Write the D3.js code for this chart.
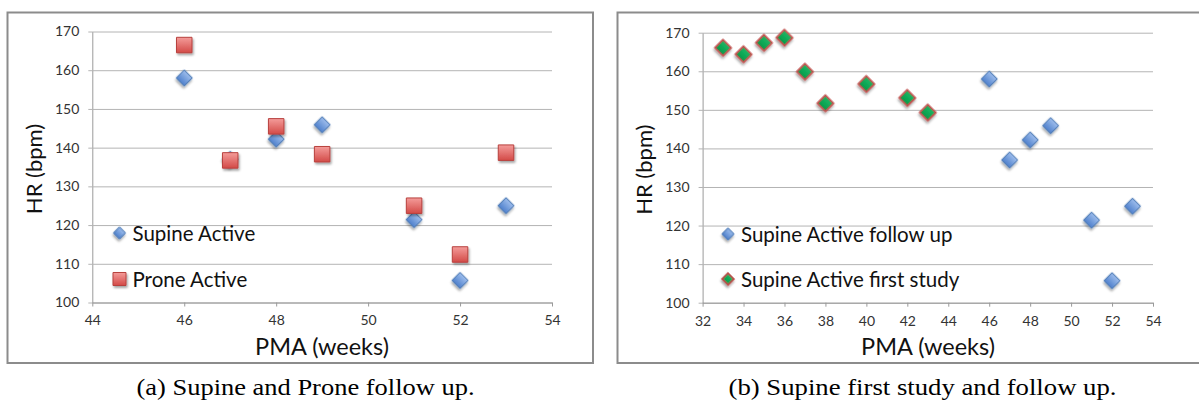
<!DOCTYPE html>
<html>
<head>
<meta charset="utf-8">
<script src="https://cdn.jsdelivr.net/npm/d3@7"></script>
<style>
  html, body { margin: 0; padding: 0; background: #fff; }
  svg { display: block; }
</style>
</head>
<body>
<svg id="chart" width="1199" height="403"></svg>
<script>
// Heart rate versus post-menstrual age (PMA)
const weeksFollowUp = [46, 47, 48, 49, 51, 52, 53];
const supineFollowUp = [158, 137, 142.2, 145.9, 121.4, 105.7, 125];
const proneFollowUp = [166.5, 136.7, 145.5, 138.3, 125, 112.4, 138.7];

const weeksFirstStudy = [33, 34, 35, 36, 37, 38, 40, 42, 43];
const supineFirstStudy = [166.1, 164.4, 167.4, 168.7, 159.9, 151.7, 156.7, 153.1, 149.3];

const xTicksA = [44, 46, 48, 50, 52, 54];
const xTicksB = [32, 34, 36, 38, 40, 42, 44, 46, 48, 50, 52, 54];
const yTicks = [100, 110, 120, 130, 140, 150, 160, 170];

const legendA = ["Supine Active", "Prone Active"];
const legendB = ["Supine Active follow up", "Supine Active first study"];
const captions = ["(a) Supine and Prone follow up.", "(b) Supine first study and follow up."];

const svg = d3.select("#chart");
const defs = svg.append("defs");

// marker fills and shadow
function vGrad(id, top, bottom) {
  const g = defs.append("linearGradient").attr("id", id)
    .attr("x1", 0).attr("y1", 0).attr("x2", 0).attr("y2", 1);
  g.append("stop").attr("offset", "0%").attr("stop-color", top);
  g.append("stop").attr("offset", "100%").attr("stop-color", bottom);
}
vGrad("gBlue", "#9dbdec", "#4f80cc");
vGrad("gRed", "#f49c9a", "#d34a47");
vGrad("gGreen", "#1fb866", "#009a48");

const shadow = defs.append("filter").attr("id", "shadow")
  .attr("x", "-50%").attr("y", "-50%").attr("width", "200%").attr("height", "200%");
shadow.append("feDropShadow").attr("dx", 1.2).attr("dy", 2).attr("stdDeviation", 1.3)
  .attr("flood-color", "#000").attr("flood-opacity", 0.35);

const styles = {
  blue:  { fill: "url(#gBlue)", stroke: "#4a78b5", shape: "diamond", width: 1 },
  red:   { fill: "url(#gRed)", stroke: "#b8413e", shape: "square", width: 1 },
  green: { fill: "url(#gGreen)", stroke: "#c0504d", shape: "diamond", width: 1.8 }
};

function marker(g, style, x, y, scale) {
  const s = scale || 1;
  const diamond = style.shape === "diamond";
  const side = (diamond ? 11.4 : 15.5) * s;
  g.append("path")
    .attr("d", d3.symbol(d3.symbolSquare, side * side)())
    .attr("transform", `translate(${x},${y})` + (diamond ? " rotate(45)" : ""))
    .attr("fill", style.fill).attr("stroke", style.stroke)
    .attr("stroke-width", style.width)
    .attr("filter", "url(#shadow)");
}

function panel(cfg) {
  const g = svg.append("g");

  // outer frame
  g.append("rect")
    .attr("x", cfg.frame[0]).attr("y", cfg.frame[1])
    .attr("width", cfg.frame[2]).attr("height", cfg.frame[3])
    .attr("fill", "#fff").attr("stroke", "#8c8c8c").attr("stroke-width", 2);

  const x = d3.scaleLinear().domain(cfg.xDomain).range(cfg.xRange);
  const y = d3.scaleLinear().domain([100, 170]).range(cfg.yRange);

  // horizontal gridlines with left ticks
  const yAxis = d3.axisLeft(y).tickValues(yTicks)
    .tickSize(-(cfg.xRange[1] - cfg.xRange[0])).tickPadding(13)
    .tickSizeOuter(0);
  const ya = g.append("g").attr("transform", `translate(${cfg.xRange[0]},0)`).call(yAxis);
  ya.select(".domain").attr("stroke", "#9a9a9a");
  ya.selectAll(".tick line").attr("stroke", "#b4b4b4").attr("x1", -4);
  ya.selectAll(".tick text").attr("font-family", "Lato, sans-serif")
    .attr("font-size", 14).attr("fill", "#333");

  // x axis
  const xAxis = d3.axisBottom(x).tickValues(cfg.xTicks).tickSize(4).tickPadding(9).tickSizeOuter(0);
  const xa = g.append("g").attr("transform", `translate(0,${cfg.yRange[0]})`).call(xAxis);
  xa.select(".domain").attr("stroke", "#9a9a9a");
  xa.selectAll(".tick line").attr("stroke", "#9a9a9a");
  xa.selectAll(".tick text").attr("font-family", "Lato, sans-serif")
    .attr("font-size", 14).attr("fill", "#333");

  // axis titles
  g.append("text")
    .attr("transform", `translate(${cfg.yTitleX},${(cfg.yRange[0] + cfg.yRange[1]) / 2 + 2}) rotate(-90)`)
    .attr("text-anchor", "middle").attr("dominant-baseline", "central")
    .attr("font-family", "Lato, sans-serif").attr("font-size", 22).attr("fill", "#111")
    .text("HR (bpm)");
  g.append("text")
    .attr("x", cfg.xTitleX).attr("y", 355)
    .attr("text-anchor", "middle")
    .attr("font-family", "Lato, sans-serif").attr("font-size", 23.5).attr("fill", "#111")
    .text("PMA (weeks)");

  // series
  cfg.series.forEach(s => {
    s.xs.forEach((w, i) => marker(g, s.style, x(w), y(s.ys[i])));
  });

  // legend
  cfg.legend.forEach((l, i) => {
    marker(g, l.style, cfg.legendX, cfg.legendY[i], l.style.shape === "square" ? 0.84 : 0.74);
    g.append("text")
      .attr("x", cfg.legendX + 13).attr("y", cfg.legendY[i])
      .attr("dominant-baseline", "central")
      .attr("font-family", "Lato, sans-serif").attr("font-size", 20.5).attr("fill", "#111")
      .text(l.label);
  });

  // caption
  g.append("text")
    .attr("x", cfg.captionX).attr("y", 395)
    .attr("text-anchor", "middle")
    .attr("font-family", "'Liberation Serif', 'Times New Roman', serif").attr("font-size", 24).attr("fill", "#000")
    .attr("textLength", cfg.captionWidth).attr("lengthAdjust", "spacingAndGlyphs")
    .text(cfg.caption);
}

panel({
  frame: [7.5, 12.5, 585.5, 350.5],
  xDomain: [44, 54], xRange: [92.3, 552], yRange: [302.5, 31.5],
  xTicks: xTicksA, yTitleX: 33, xTitleX: 322,
  series: [
    { xs: weeksFollowUp, ys: supineFollowUp, style: styles.blue },
    { xs: weeksFollowUp, ys: proneFollowUp, style: styles.red }
  ],
  legend: [
    { label: legendA[0], style: styles.blue },
    { label: legendA[1], style: styles.red }
  ],
  legendX: 119.5, legendY: [233, 279],
  caption: captions[0], captionX: 305.5, captionWidth: 338
});

panel({
  frame: [617.5, 12.5, 585.5, 350.5],
  xDomain: [32, 54], xRange: [702.6, 1153], yRange: [302.7, 32.7],
  xTicks: xTicksB, yTitleX: 643, xTitleX: 928,
  series: [
    { xs: weeksFollowUp, ys: supineFollowUp, style: styles.blue },
    { xs: weeksFirstStudy, ys: supineFirstStudy, style: styles.green }
  ],
  legend: [
    { label: legendB[0], style: styles.blue },
    { label: legendB[1], style: styles.green }
  ],
  legendX: 728, legendY: [234, 279],
  caption: captions[1], captionX: 922.5, captionWidth: 388
});
</script>
</body>
</html>
